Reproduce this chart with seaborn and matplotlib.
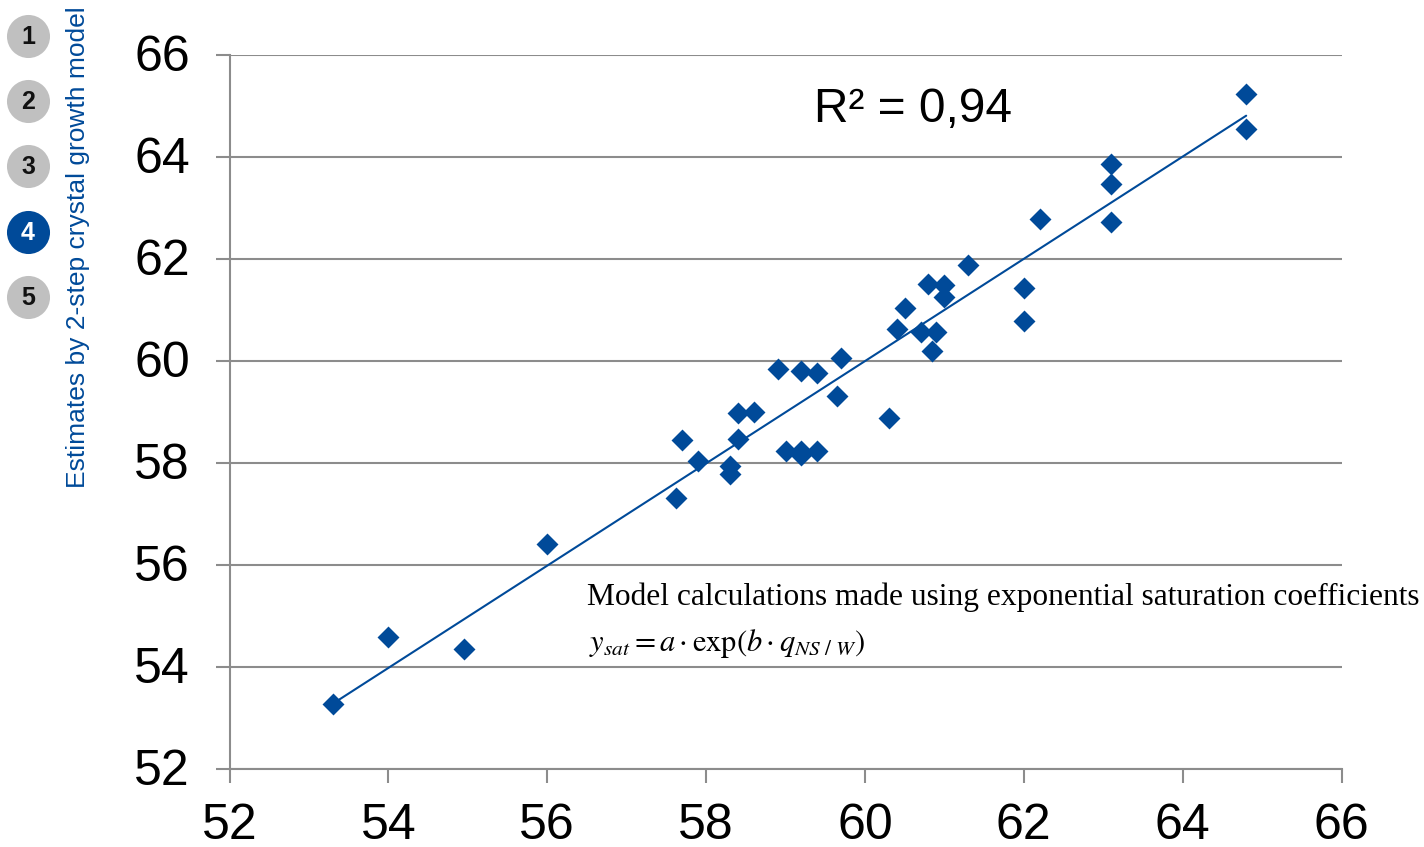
import matplotlib
matplotlib.use('Agg')
import matplotlib.pyplot as plt
from matplotlib.transforms import ScaledTranslation
import seaborn as sns
import pandas as pd

x_vals = [53.3, 54.0, 54.95, 56.0, 57.62, 57.7, 57.9, 58.3, 58.3, 58.4, 58.4, 58.6,
          58.9, 59.0, 59.2, 59.2, 59.2, 59.4, 59.4, 59.65, 59.7, 60.3, 60.4, 60.5,
          60.7, 60.8, 60.85, 60.9, 61.0, 61.0, 61.3, 62.0, 62.0, 62.2, 63.1, 63.1,
          63.1, 64.8, 64.8]
y_vals = [53.27, 54.57, 54.35, 56.4, 57.3, 58.45, 58.02, 57.93, 57.78, 58.47, 58.98, 59.0,
          59.84, 58.22, 59.8, 58.14, 58.22, 59.75, 58.22, 59.3, 60.05, 58.88, 60.62, 61.03,
          60.55, 61.5, 60.19, 60.55, 61.49, 61.25, 61.88, 61.43, 60.78, 62.77, 63.86, 63.47,
          62.72, 65.23, 64.54]
trend_x = [53.3, 64.8]
trend_y = [53.27, 64.8]
ticks = [52, 54, 56, 58, 60, 62, 64, 66]
steps = ['1', '2', '3', '4', '5']
active_step = '4'

BLUE = '#004a99'
GREY = '#8c8c8c'

sns.set_theme(style="white")
plt.rcParams['font.family'] = ['Liberation Sans', 'DejaVu Sans']

df = pd.DataFrame({'x': x_vals, 'y': y_vals})

fig = plt.figure(figsize=(14.24, 8.47), dpi=100)
ax = fig.add_axes([229.5 / 1424, 1 - 768.5 / 847, (1341.5 - 229.5) / 1424, (768.5 - 54.5) / 847])

sns.lineplot(x=trend_x, y=trend_y, ax=ax, color=BLUE, linewidth=1.5, zorder=3)
sns.scatterplot(data=df, x='x', y='y', ax=ax, marker='D', s=125, color=BLUE, edgecolor=BLUE, linewidth=0, zorder=4)

ax.set_xlim(52, 66)
ax.set_ylim(52, 66)
ax.set_xticks(ticks)
ax.set_yticks(ticks)
ax.tick_params(axis='x', labelsize=36, length=10, width=1.5, color=GREY, labelcolor='black', bottom=True, pad=15)
ax.tick_params(axis='y', labelsize=36, length=10, width=1.5, color=GREY, labelcolor='black', left=True, pad=18.5)
ax.set_xlabel('')
ax.set_ylabel('')
ax.yaxis.grid(True, color=GREY, linewidth=1.5)
ax.set_axisbelow(True)
for s in ['top', 'right']:
    ax.spines[s].set_visible(False)
for s in ['left', 'bottom']:
    ax.spines[s].set_color(GREY)
    ax.spines[s].set_linewidth(1.5)

# y labels sit a touch higher than matplotlib puts them
for lab in ax.get_yticklabels():
    lab.set_transform(lab.get_transform() + ScaledTranslation(0, 1.4 / 72, fig.dpi_scale_trans))

fig.text(913 / 1424, 1 - 110 / 847, 'R² = 0,94', fontsize=34.5, ha='center', va='center', color='black')
fig.text(587 / 1424, 1 - 597 / 847, 'Model calculations made using exponential saturation coefficients',
         fontsize=22.6, family='Liberation Serif', ha='left', va='center', color='black')
fig.text(589 / 1424, 1 - 643 / 847, r'$y_{sat}=a\cdot\mathrm{exp}(b\cdot q_{NS\ /\ W})$',
         fontsize=22, math_fontfamily='stix', ha='left', va='center', color='black')
fig.text(78.5 / 1424, 1 - 247 / 847, 'Estimates by 2-step crystal growth model', rotation=90,
         fontsize=19, color=BLUE, ha='center', va='center')

# step badges on the left
badge_ax = fig.add_axes([0, 0, 1, 1])
badge_ax.set_xlim(0, 1424)
badge_ax.set_ylim(847, 0)
badge_ax.axis('off')
badge_y = [36, 101, 166, 232, 297]
for label, yy in zip(steps, badge_y):
    on = label == active_step
    badge_ax.scatter([28], [yy], s=961, color=BLUE if on else '#c0c0c0', linewidth=0)
    badge_ax.text(28, yy + 1, label, fontsize=18, fontweight='bold', ha='center', va='center',
                  color='white' if on else '#111111')

fig.savefig('out.png', dpi=100)
